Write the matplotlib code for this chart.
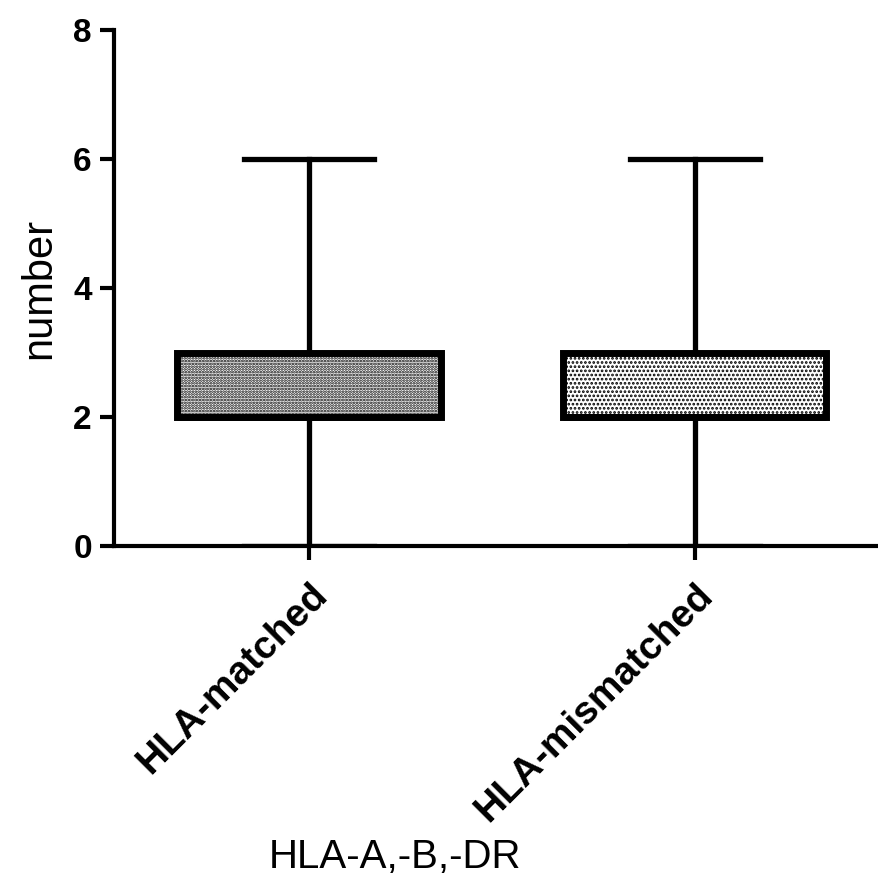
import matplotlib

matplotlib.use("Agg")
import matplotlib.pyplot as plt  # noqa: E402

# five-number summaries per group
groups = ["HLA-matched", "HLA-mismatched"]
whislo = [0, 0]
q1 = [2, 2]
med = [2, 2]
q3 = [3, 3]
whishi = [6, 6]
hatches = ["......", "...."]

plt.rcParams["font.family"] = ["Liberation Sans", "DejaVu Sans"]
plt.rcParams["hatch.linewidth"] = 1.3

fig = plt.figure(figsize=(8.79, 8.81), dpi=100)
ax = fig.add_axes([0.1297, 0.380, 0.8703, 0.586])

stats = [
    dict(label=g, whislo=lo, q1=a, med=m, q3=b, whishi=hi)
    for g, lo, a, m, b, hi in zip(groups, whislo, q1, med, q3, whishi)
]
bp = ax.bxp(
    stats, positions=[0, 1], widths=0.683, patch_artist=True,
    showfliers=False, capwidths=0.338,
    boxprops=dict(linewidth=5, edgecolor="black", facecolor="white"),
    whiskerprops=dict(linewidth=3.8, color="black"),
    capprops=dict(linewidth=3.8, color="black"),
    medianprops=dict(linewidth=5, color="black"),
)
for patch, h in zip(bp["boxes"], hatches):
    patch.set_hatch(h)
    patch.set_joinstyle("miter")

ax.set_xlim(-0.506, 1.478)
ax.set_ylim(0, 8)
ax.set_yticks([0, 2, 4, 6, 8])
ax.spines["top"].set_visible(False)
ax.spines["right"].set_visible(False)
for s in ("left", "bottom"):
    ax.spines[s].set_linewidth(3)
ax.tick_params(axis="both", width=3, length=10, direction="out")
ax.tick_params(axis="y", pad=6)
ax.tick_params(axis="x", pad=12)
for lab in ax.get_yticklabels():
    lab.set_fontsize(24)
    lab.set_fontweight("bold")
ax.set_xticks([0, 1])
ax.set_xticklabels(groups, rotation=45, ha="right", rotation_mode="anchor",
                   fontsize=28, fontweight="bold")
ax.set_ylabel("number", fontsize=30, labelpad=10)

fig.text(395 / 879, 1 - 857 / 881, "HLA-A,-B,-DR", fontsize=29,
         ha="center", va="center")

fig.savefig("out.png", dpi=100)
plt.close(fig)
